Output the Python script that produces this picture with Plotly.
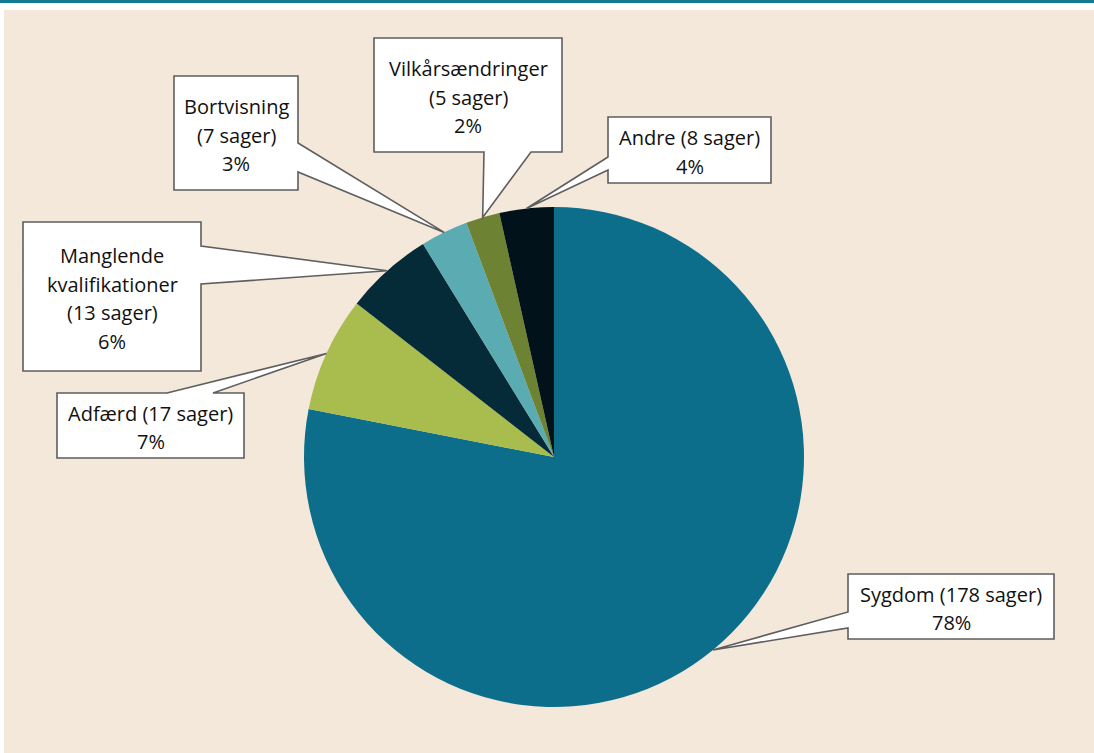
import math
import plotly.graph_objects as go

# data
categories = ["Sygdom", "Adfærd", "Manglende kvalifikationer", "Bortvisning", "Vilkårsændringer", "Andre"]
cases = [178, 17, 13, 7, 5, 8]
colors = ["#0c6e8a", "#a8bd4e", "#062b38", "#5aabb2", "#6e8233", "#02121a"]

W, H = 1094, 753
# pie geometry in pixels
CX, CY, R = 554, 457, 250

# callout boxes: (x0, y0, x1, y1) px, side of the wedge, wedge base along that side, label on one line?
callouts = [
    ((848, 574, 1054, 639), "left", (628, 612), True),
    ((57, 393, 244, 458), "top", (167, 213), True),
    ((23, 222, 201, 371), "right", (246, 284), False),
    ((174, 76, 298, 190), "right", (143, 172), False),
    ((374, 38, 562, 152), "bottom", (531, 484), False),
    ((608, 117, 771, 183), "left", (170, 157), True),
]

FONT = "Open Sans"


def px(x):
    return x / W


def py(y):
    return 1 - y / H


fig = go.Figure()

fig.add_trace(go.Pie(
    labels=categories, values=cases, sort=False, direction="clockwise", rotation=0,
    marker=dict(colors=colors, line=dict(width=0)),
    textinfo="none", hoverinfo="label+value+percent", showlegend=False,
    domain=dict(x=[px(CX - R - 40), px(CX + R + 40)], y=[py(CY + R), py(CY - R)]),
))

shapes = [
    # beige panel and teal rule on top
    dict(type="rect", xref="paper", yref="paper", x0=px(4), x1=1, y0=0, y1=py(10),
         fillcolor="#f4e8db", line=dict(width=0), layer="below"),
    dict(type="rect", xref="paper", yref="paper", x0=0, x1=1, y0=py(3), y1=1,
         fillcolor="#137a93", line=dict(width=0), layer="below"),
]
annotations = []

total = sum(cases)
cum = 0
for name, v, (box, side, base, inline) in zip(categories, cases, callouts):
    theta = 2 * math.pi * (cum + v / 2) / total
    cum += v
    tx = CX + R * math.sin(theta)
    ty = CY - R * math.cos(theta)
    x0, y0, x1, y1 = box
    b1, b2 = base
    pts = [(x0, y0)]
    if side == "top":
        pts += [(b1, y0), (tx, ty), (b2, y0)]
    pts += [(x1, y0)]
    if side == "right":
        pts += [(x1, b1), (tx, ty), (x1, b2)]
    pts += [(x1, y1)]
    if side == "bottom":
        pts += [(b1, y1), (tx, ty), (b2, y1)]
    pts += [(x0, y1)]
    if side == "left":
        pts += [(x0, b1), (tx, ty), (x0, b2)]
    path = "M " + " L ".join(f"{px(a):.5f},{py(b):.5f}" for a, b in pts) + " Z"
    shapes.append(dict(type="path", xref="paper", yref="paper", path=path,
                       fillcolor="white", line=dict(color="#5e5e5e", width=1.6)))

    pct = f"{round(100 * v / total)}%"
    if inline:
        lines = [f"{name} ({v} sager)", pct]
    else:
        lines = name.split(" ") + [f"({v} sager)", pct]
    mid_y = (y0 + y1) / 2 + 2
    step = 28.5
    for i, line in enumerate(lines):
        ly = mid_y + (i - (len(lines) - 1) / 2) * step
        annotations.append(dict(
            x=px((x0 + x1) / 2), y=py(ly), xref="paper", yref="paper",
            text=line, showarrow=False, xanchor="center", yanchor="middle",
            font=dict(family=FONT, size=20, color="#111111"),
        ))

fig.update_layout(
    width=W, height=H,
    margin=dict(l=0, r=0, t=0, b=0),
    paper_bgcolor="white", plot_bgcolor="white",
    shapes=shapes, annotations=annotations,
)

fig.write_html("out.html", config={"displayModeBar": False},
               post_script="document.body.style.margin='0';")
